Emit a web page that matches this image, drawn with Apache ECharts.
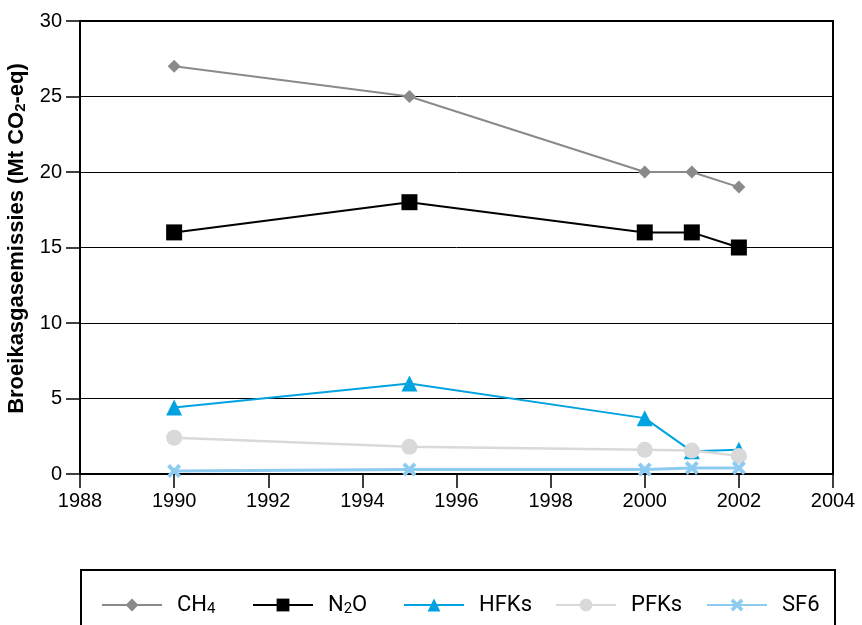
<!DOCTYPE html>
<html><head><meta charset="utf-8">
<script src="https://cdn.jsdelivr.net/npm/echarts@6/dist/echarts.min.js"></script>
<style>html,body{margin:0;padding:0;background:#fff}#c{width:862px;height:625px}</style>
</head><body><div id="c"></div>
<script>
const years = [1990, 1995, 2000, 2001, 2002];
const ch4 = [27, 25, 20, 20, 19];
const n2o = [16, 18, 16, 16, 15];
const hfks = [4.4, 6.0, 3.7, 1.5, 1.6];
const pfks = [2.4, 1.8, 1.6, 1.55, 1.2];
const sf6 = [0.2, 0.3, 0.3, 0.4, 0.4];
const seriesNames = ['CH4', 'N2O', 'HFKs', 'PFKs', 'SF6'];
const legendLabels = ['CH{s|4}', 'N{s|2}O', 'HFKs', 'PFKs', 'SF6'];
const legendLeft = [101, 252, 403, 555, 706];

const crossPath = 'path://M2,0 L5,3 L8,0 L10,2 L7,5 L10,8 L8,10 L5,7 L2,10 L0,8 L3,5 L0,2 Z';
const font = 'Roboto, Liberation Sans, Arial, sans-serif';
const font2 = 'Liberation Sans, Arial, sans-serif';
function pairs(v){ return years.map((y,i)=>[y, v[i]]); }
function mk(name, data, color, symbol, size, lw){
  return {name, type:'line', data:pairs(data), symbol, symbolSize:size,
    lineStyle:{color, width:lw}, itemStyle:{color}, z: 3};
}
const legends = seriesNames.map((n,i)=>({
  data:[n], left:legendLeft[i], top:594, padding:0, itemWidth:60, itemHeight:16, itemGap:16,
  formatter: ()=>legendLabels[i],
  textStyle:{color:'#000', fontSize:22, fontFamily:font, padding:[0,0,0,10],
    rich:{s:{fontSize:15, fontFamily:font, color:'#000', padding:[9,0,0,0]}}}
}));
const chart = echarts.init(document.getElementById('c'));
chart.setOption({
  animation:false,
  textStyle:{fontFamily:font},
  grid:{left:80, right:29, top:21, bottom:151, show:true, borderColor:'#000', borderWidth:2,
    containLabel:false, outerBoundsMode:'none'},
  xAxis:{type:'value', min:1988, max:2004, interval:2,
    axisLine:{lineStyle:{color:'#000', width:2}},
    axisTick:{show:true, length:14, lineStyle:{color:'#000', width:1.5}},
    axisLabel:{color:'#000', fontSize:20, margin:17, fontFamily:font2, formatter:v=>String(v)},
    splitLine:{show:false}},
  yAxis:{type:'value', min:0, max:30, interval:5,
    name:'Broeikasgasemissies (Mt CO{s|2}-eq)', nameLocation:'middle', nameGap:46,
    nameTextStyle:{color:'#000', fontSize:22, fontWeight:'bold', fontFamily:font2, padding:[0,0,0,18],
      rich:{s:{fontSize:15, fontWeight:'bold', fontFamily:font2, color:'#000', padding:[9,0,0,0]}}},
    axisLine:{lineStyle:{color:'#000', width:2}},
    axisTick:{show:true, length:14, lineStyle:{color:'#000', width:1.5}},
    axisLabel:{color:'#000', fontSize:20, margin:18, fontFamily:font2},
    splitLine:{show:true, lineStyle:{color:'#000', width:1}}},
  legend:legends,
  graphic:[{type:'rect', shape:{x:81, y:570, width:754, height:70},
    style:{fill:'none', stroke:'#000', lineWidth:2}, silent:true}],
  series:[
    mk(seriesNames[0], ch4, '#8a8a8a', 'diamond', 13, 2),
    mk(seriesNames[1], n2o, '#000000', 'rect', 16, 2),
    mk(seriesNames[2], hfks, '#00a3e0', 'triangle', 16, 2),
    mk(seriesNames[3], pfks, '#d9d9d9', 'circle', 16, 2.5),
    mk(seriesNames[4], sf6, '#8ecbf0', crossPath, 14, 3)
  ]
});
</script></body></html>
